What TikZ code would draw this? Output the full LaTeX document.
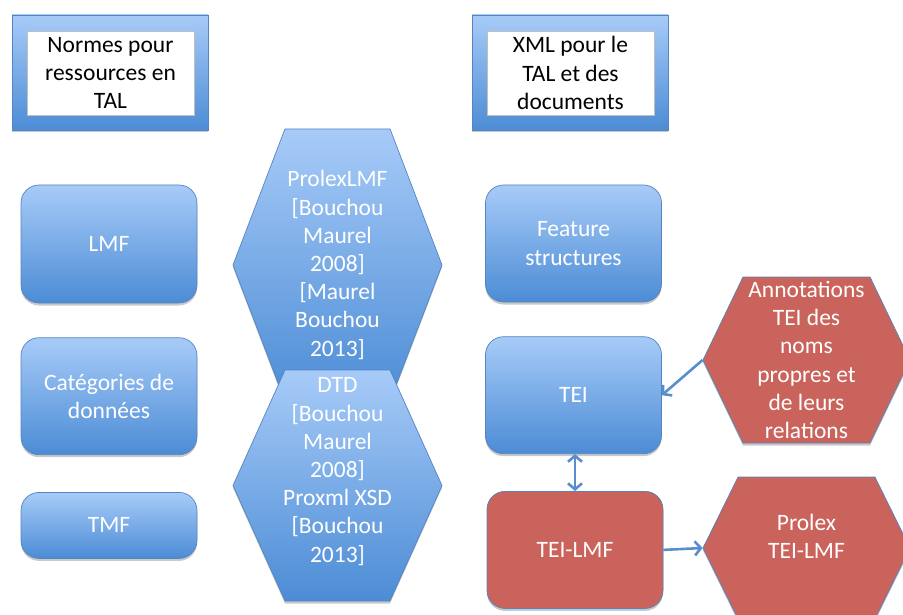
\documentclass[tikz,border=0pt]{standalone}
\usepackage{fontspec}
\setmainfont{Carlito}
\usepackage{tikz}
\usetikzlibrary{positioning}
\usetikzlibrary{shapes.symbols}
\usetikzlibrary{shadows}
\usetikzlibrary{arrows.meta}

\definecolor{topblue}{RGB}{167,203,248}
\definecolor{botblue}{RGB}{76,140,213}
\definecolor{edgeblue}{RGB}{84,132,194}
\definecolor{arrowblue}{RGB}{88,141,206}
\definecolor{brick}{RGB}{202,99,91}

\tikzset{
  shade/.style={drop shadow={shadow xshift=0pt, shadow yshift=-2.5pt, opacity=.3, fill=black!70}},
  bluebox/.style={shade, rounded corners=18pt, draw=edgeblue, line width=.7pt,
    top color=topblue, bottom color=botblue, text=white, align=center,
    minimum width=176pt, minimum height=117pt},
  redbox/.style={bluebox, fill=brick, top color=brick, bottom color=brick},
  frame/.style={shade, draw=edgeblue, line width=.7pt, top color=topblue,
    bottom color=botblue, minimum width=196pt, minimum height=115pt},
  inbox/.style={fill=white, draw=black!25, line width=.4pt, align=center,
    minimum width=167pt, minimum height=84pt, inner sep=0pt},
  hexa/.style={shade, signal, signal to=west and east, draw=edgeblue, line width=.7pt,
    top color=topblue, bottom color=botblue, text=white, align=center, inner sep=0pt},
  redhexa/.style={hexa, top color=brick, bottom color=brick},
  link/.style={draw=arrowblue, line width=2.6pt, -{Straight Barb[length=6pt, width=14pt]}},
}

\begin{document}
\begin{tikzpicture}[x=1pt, y=-1pt, font=\fontsize{23.5pt}{28.2pt}\selectfont]
  \useasboundingbox (0,0) rectangle (903,615);

  % headers
  \node[frame] (normesframe) at (110,72.5) {};
  \node[inbox] (normes) at (110.5,73) {Normes pour\\ressources en\\TAL};
  \node[frame] (xmlframe) at (570,72.5) {};
  \node[inbox] (xml) at (570.5,73) {XML pour le\\TAL et des\\documents};

  % left column
  \node[bluebox, minimum height=118pt] (lmf) at (109,244) {LMF};
  \node[bluebox, below=34pt of lmf] (cat) {Catégories de\\données};
  \node[bluebox, minimum height=66pt, below=37pt of cat] (tmf) {TMF};

  % middle column
  \node[hexa, minimum width=209pt, minimum height=272pt, signal pointer angle=138.2]
    (prolexlmf) at (337.5,265)
    {ProlexLMF\\{[}Bouchou\\Maurel\\2008{]}\\{[}Maurel\\Bouchou\\2013{]}};
  \node[hexa, minimum width=209pt, minimum height=231pt, signal pointer angle=131.5,
    label={[text=white, align=center, yshift=14pt]center:DTD\\{[}Bouchou\\Maurel\\2008{]}\\Proxml XSD\\{[}Bouchou\\2013{]}}]
    (dtd) at (337.5,485.5) {};

  % right column
  \node[bluebox] (feat) at (573.5,243.5) {Feature\\structures};
  \node[bluebox, below=34pt of feat] (tei) {TEI};
  \node[redbox, below=37pt of tei, xshift=1.5pt] (teilmf) {TEI-LMF};

  \node[redhexa, minimum width=207pt, minimum height=166pt, signal pointer angle=128.6]
    (annot) at (806.5,360)
    {Annotations\\TEI des\\noms\\propres et\\de leurs\\relations};
  \node[redhexa, minimum width=207pt, minimum height=142pt, signal pointer angle=127.5,
    label={[text=white, align=center, yshift=12pt]center:Prolex\\TEI-LMF}]
    (prolex) at (806.5,548) {};

  \draw[link] (annot.west) -- (tei.east);
  \draw[link, {Straight Barb[length=6pt, width=14pt]}-{Straight Barb[length=6pt, width=14pt]}]
    (teilmf.north) -- (teilmf.north |- tei.south);
  \draw[link] (teilmf.east) -- (prolex.west);
\end{tikzpicture}
\end{document}
